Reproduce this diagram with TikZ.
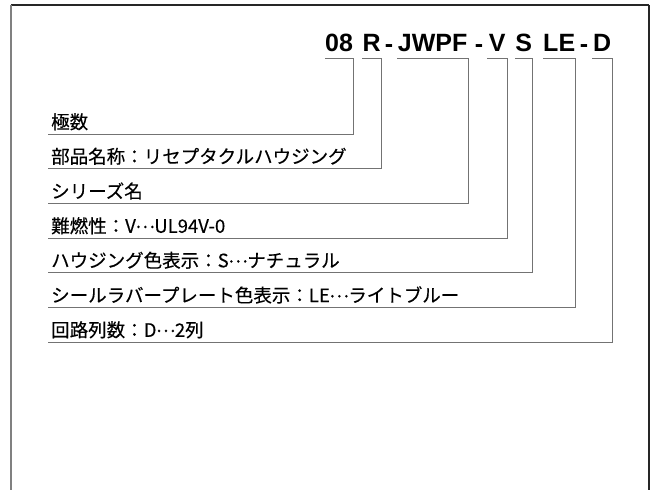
\documentclass[tikz,border=0pt]{standalone}
\usepackage{fontspec}
\setmainfont{Liberation Sans}
\newfontfamily\jpfont{Noto Sans CJK JP}[FakeBold=0.25]
\newcommand{\jell}{\makebox[1em]{\raisebox{0.26em}{…}}}
\begin{document}
\begin{tikzpicture}[x=1pt,y=-1pt,
  codeseg/.style={anchor=south west,inner xsep=0pt,inner ysep=6pt,align=center,
    font=\fontsize{25}{28}\selectfont\bfseries},
  dashsign/.style={anchor=base,inner sep=0pt,font=\fontsize{25}{28}\selectfont\bfseries},
  lab/.style={anchor=south west,inner xsep=3pt,inner ysep=5pt,text depth=0pt,
    font=\fontsize{18.5}{21}\selectfont\jpfont},
  bracket/.style={draw=black!55,line width=1pt},
  frame/.style={line width=1.2pt}]
\useasboundingbox (0,0) rectangle (651,490);
% frame
\draw[frame,draw=black!85] (11,5) -- (649,5);
\draw[frame,draw=black!50] (11,5) -- (11,490);
\draw[frame,draw=black!85] (649,5) -- (649,490);
% code segments
\node[codeseg,minimum width=27pt] (c1) at (325,58) {08};
\node[codeseg,minimum width=19pt] (c2) at (362,58) {R};
\node[dashsign] (h1) at (389,52) {-};
\node[codeseg,minimum width=71pt] (c3) at (397,58) {JWPF};
\node[dashsign] (h2) at (479,52) {-};
\node[codeseg,minimum width=20pt] (c4) at (487,58) {V};
\node[codeseg,minimum width=17pt] (c5) at (515,58) {S};
\node[codeseg,minimum width=32pt] (c6) at (543,58) {LE};
\node[dashsign] (h3) at (584,52) {-};
\node[codeseg,minimum width=20pt] (c7) at (592,58) {D};
% labels
\node[lab] (l1) at (48,134) {極数};
\node[lab] (l2) at (48,168.5) {部品名称：リセプタクルハウジング};
\node[lab] (l3) at (48,203.3) {シリーズ名};
\node[lab] (l4) at (48,238) {難燃性：V\jell UL94V-0};
\node[lab] (l5) at (48,272.5) {ハウジング色表示：S\jell ナチュラル};
\node[lab] (l6) at (48,307.3) {シールラバープレート色表示：LE\jell ライトブルー};
\node[lab] (l7) at (48,342) {回路列数：D\jell 2列};
% brackets
\draw[bracket] (c1.south west) -- (c1.south east) |- (l1.south west);
\draw[bracket] (c2.south west) -- (c2.south east) |- (l2.south west);
\draw[bracket] (c3.south west) -- (c3.south east) |- (l3.south west);
\draw[bracket] (c4.south west) -- (c4.south east) |- (l4.south west);
\draw[bracket] (c5.south west) -- (c5.south east) |- (l5.south west);
\draw[bracket] (c6.south west) -- (c6.south east) |- (l6.south west);
\draw[bracket] (c7.south west) -- (c7.south east) |- (l7.south west);
\end{tikzpicture}
\end{document}
